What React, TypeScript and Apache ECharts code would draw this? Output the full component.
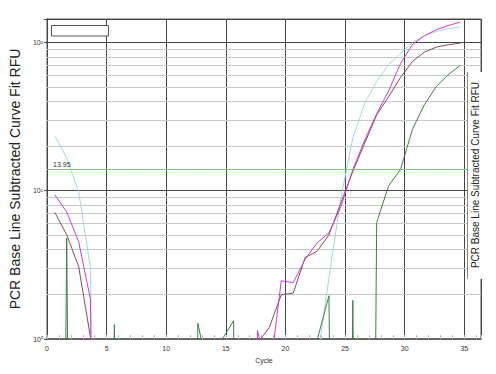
import React, { useEffect, useRef } from 'react';
import * as echarts from 'echarts';

// Cycle positions of the plotted points
const cycles = [
  0.65, 1.65, 2.65, 3.65, 4.65, 5.65, 6.65, 7.65, 8.65, 9.65,
  10.65, 11.65, 12.65, 13.65, 14.65, 15.65, 16.65, 17.65, 18.65, 19.65,
  20.65, 21.65, 22.65, 23.65, 24.65, 25.65, 26.65, 27.65, 28.65, 29.65,
  30.65, 31.65, 32.65, 33.65, 34.65,
];

// value far below the axis minimum (drawn as a drop off the bottom)
const L = 1e-9;

const lightBlue = [
  23.5, 16.6, 9.9, 3.0, L, L, L, L, L, L,
  L, L, L, L, L, L, L, L, L, L,
  L, L, 0.7, 2.6, 9.0, 22.7, 39, 54.6, 71, 84.8,
  100, 111, 118.6, 124, 127,
];

const magenta = [
  9.4, 7.2, 4.55, 1.84, L, L, L, L, L, L,
  L, L, L, L, L, L, L, 1.14, 0.55, 2.47,
  2.4, 3.45, 4.45, 5.2, 7.8, 13.9, 22, 33, 47, 72,
  97, 111, 122, 130, 137,
];

const brown = [
  7.14, 5.05, 3.09, 1.02, L, L, L, L, L, L,
  L, L, L, L, L, L, 0.5, 0.93, 1.2, 1.99,
  2.04, 3.55, 3.9, 5.05, 8.3, 13.5, 21, 32.5, 43, 58,
  74.5, 86, 93, 96.5, 99,
];

const green = [
  L, 4.8, L, L, L, 1.25, L, L, L, L,
  L, L, 1.28, 0.52, 0.98, 1.33, L, L, L, L,
  L, L, 0.98, 1.96, L, 1.82, L, 6.1, 10.8, 13.9,
  26, 38, 50.5, 60.6, 70,
];

const threshold = 13.95;
const minorGridValues = [2, 3, 4, 5, 6, 7, 8, 9, 20, 30, 40, 50, 60, 70, 80, 90];
const xTickLabels = [0, 5, 10, 15, 20, 25, 30, 35];
const yTickLabels: Record<number, string> = { 1: '10⁰', 10: '10¹', 100: '10²' };
const yTitle = 'PCR Base Line Subtracted Curve Fit RFU';

const FONT = '"Liberation Sans", Arial, sans-serif';

export default function App() {
  const ref = useRef<HTMLDivElement>(null);

  useEffect(() => {
    if (!ref.current) return;
    const chart = echarts.init(ref.current, null, { renderer: 'svg' });
    const pairs = (vals: number[]) => cycles.map((c, i) => [c, vals[i]]);
    const curve = (name: string, vals: number[], color: string) => ({
      name,
      type: 'line',
      data: pairs(vals),
      showSymbol: false,
      symbol: 'none',
      clip: true,
      z: 3,
      lineStyle: { color, width: 1 },
      itemStyle: { color },
    });

    chart.setOption({
      animation: false,
      grid: {
        left: 44.5,
        right: 15,
        top: 19,
        bottom: 35,
        show: true,
        borderColor: '#555',
        borderWidth: 1,
      },
      xAxis: {
        type: 'value',
        min: 0,
        max: 36.4,
        interval: 5,
        name: 'Cycle',
        nameLocation: 'middle',
        nameGap: 17,
        nameTextStyle: { fontSize: 7, color: '#333', fontFamily: FONT },
        axisLine: { show: true, lineStyle: { color: '#666', width: 2 } },
        axisTick: { show: true, inside: true, length: 4, lineStyle: { color: '#bbb' } },
        minorTick: { show: true, splitNumber: 5, length: 4, lineStyle: { color: '#bbb' } },
        axisLabel: {
          fontSize: 7,
          color: '#333',
          margin: 6,
          fontFamily: FONT,
          formatter: (v: number) => (xTickLabels.includes(v) ? String(v) : ''),
        },
        splitLine: { show: true, lineStyle: { color: '#444', width: 1 } },
      },
      yAxis: {
        type: 'log',
        logBase: 10,
        min: 1,
        max: 144,
        interval: 1,
        name: yTitle,
        nameLocation: 'middle',
        nameRotate: 90,
        nameGap: 20,
        nameTextStyle: { fontSize: 14, color: '#222', fontFamily: FONT },
        axisLine: { show: true, lineStyle: { color: '#444' } },
        axisTick: { show: true, length: 3, lineStyle: { color: '#444' } },
        axisLabel: {
          fontSize: 7,
          color: '#333',
          margin: 4,
          fontFamily: FONT,
          formatter: (v: number) => yTickLabels[Math.round(v)] && Math.abs(v - Math.round(v)) < 1e-6 ? yTickLabels[Math.round(v)] : '',
        },
        splitLine: { show: true, lineStyle: { color: '#444', width: 1 } },
      },
      series: [
        {
          name: 'minorGrid',
          type: 'line',
          data: [],
          silent: true,
          markLine: {
            silent: true,
            z: 1,
            symbol: ['none', 'none'],
            label: { show: false },
            lineStyle: { color: '#c8c8c8', width: 1, type: 'solid' },
            data: minorGridValues.map((v) => ({ yAxis: v })),
          },
        },
        curve('A', lightBlue, '#a3d5de'),
        curve('B', brown, '#8c4a52'),
        curve('C', magenta, '#c83ec8'),
        curve('D', green, '#3f7f43'),
        {
          name: 'threshold',
          type: 'line',
          data: [],
          silent: true,
          markLine: {
            silent: true,
            z: 5,
            symbol: ['none', 'none'],
            lineStyle: { color: '#6fd46f', width: 1, type: 'solid' },
            label: {
              show: true,
              position: 'insideStartTop',
              formatter: String(threshold),
              fontSize: 7,
              color: '#333',
              fontFamily: FONT,
              distance: [6, 1],
            },
            data: [{ yAxis: threshold }],
          },
        },
      ],
      graphic: [
        {
          type: 'rect',
          z: 100,
          shape: { x: 51.5, y: 25.5, width: 57, height: 10.5 },
          style: { fill: '#fff', stroke: '#555', lineWidth: 1 },
        },
        {
          type: 'rect',
          z: 100,
          shape: { x: 467, y: 72, width: 17, height: 207 },
          style: { fill: '#fff' },
        },
        {
          type: 'line',
          z: 101,
          shape: { x1: 467.5, y1: 72, x2: 467.5, y2: 279 },
          style: { stroke: '#888', lineWidth: 1 },
        },
        {
          type: 'text',
          z: 101,
          x: 475.5,
          y: 175,
          rotation: Math.PI / 2,
          style: {
            text: yTitle,
            fontSize: 10,
            fill: '#222',
            align: 'center',
            verticalAlign: 'middle',
            fontFamily: FONT,
          },
        },
      ],
    });

    return () => chart.dispose();
  }, []);

  return (
    <div
      ref={ref}
      style={{ position: 'fixed', left: 0, top: 0, width: 496, height: 374, background: '#fff' }}
    />
  );
}
